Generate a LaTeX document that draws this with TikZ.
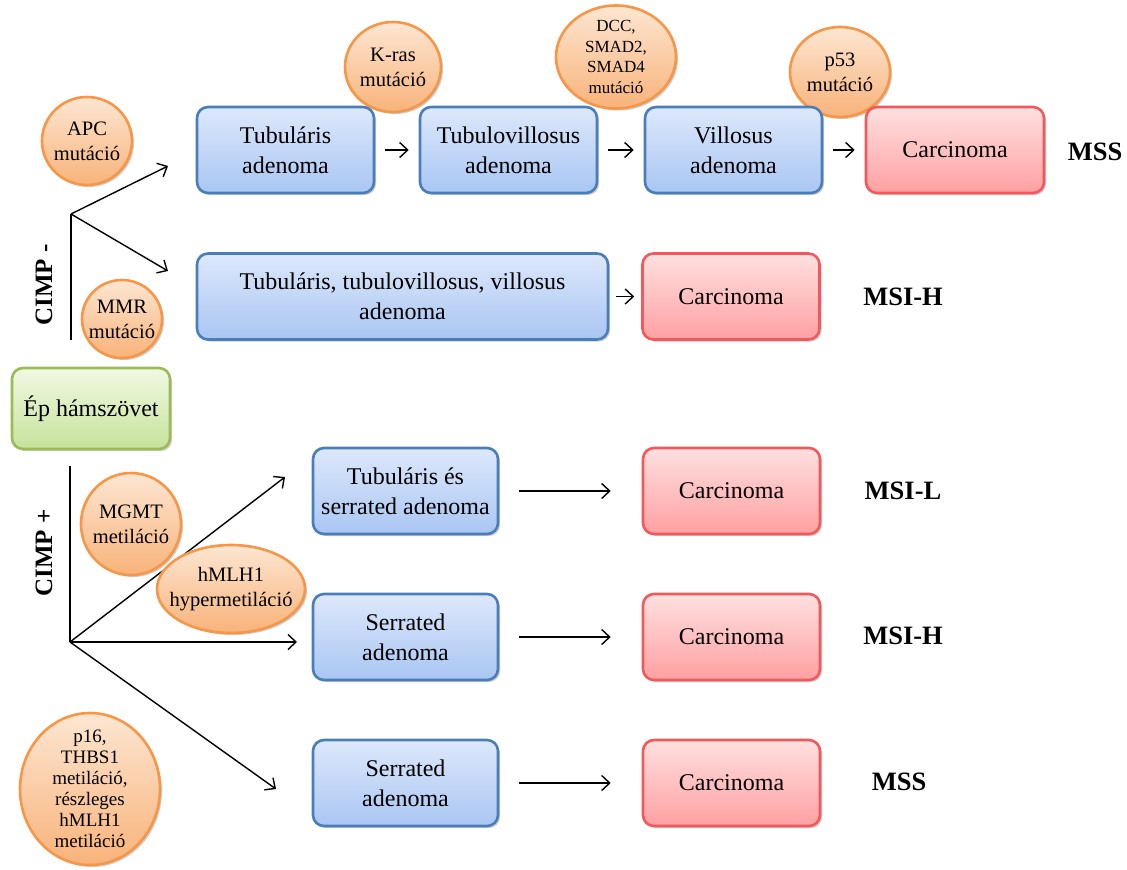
\documentclass[tikz,border=0pt]{standalone}
\usepackage{fontspec}
\setmainfont{Liberation Serif}
\usetikzlibrary{arrows.meta,shapes.geometric,shadows}
\definecolor{bblue}{HTML}{4A7EBB}
\definecolor{btop}{HTML}{DDE8FB}
\definecolor{bbot}{HTML}{A9C6F3}
\definecolor{rbord}{HTML}{F2585C}
\definecolor{rtop}{HTML}{FFE0E0}
\definecolor{rbot}{HTML}{FFA0A2}
\definecolor{gbord}{HTML}{9BBB59}
\definecolor{gtop}{HTML}{F2F9E4}
\definecolor{gbot}{HTML}{C6E29A}
\definecolor{obord}{HTML}{F79646}
\definecolor{otop}{HTML}{FDE6D2}
\definecolor{obot}{HTML}{F8B37A}
\newcommand\fsz[2]{\fontsize{#1}{#2}\selectfont}
\begin{document}
\begin{tikzpicture}[x=1pt,y=-1pt,
  shad/.style={drop shadow={shadow xshift=2pt,shadow yshift=-2pt,opacity=0.2,fill=black}},
  bluebox/.style={shad,rounded corners=11pt,draw=bblue,line width=2.6pt,top color=btop,bottom color=bbot,minimum width=177pt,minimum height=86pt,align=center,font=\fsz{24}{30}},
  redbox/.style={shad,rounded corners=11pt,draw=rbord,line width=2.6pt,top color=rtop,bottom color=rbot,minimum width=177pt,minimum height=86pt,align=center,font=\fsz{24}{30}},
  greenbox/.style={shad,rounded corners=11pt,draw=gbord,line width=2.6pt,top color=gtop,bottom color=gbot,minimum width=158pt,minimum height=81pt,align=center,font=\fsz{24}{30}},
  oval/.style={shad,ellipse,draw=obord,line width=2.6pt,top color=otop,bottom color=obot,inner sep=0pt},
  otext/.style={align=center,font=\fsz{20.5}{25}},
  lbl/.style={font=\bfseries\fsz{26.5}{30}},
  arr/.style={line width=1.4pt,-{Straight Barb[length=8pt,width=15pt,line width=1.4pt]}},
  ln/.style={line width=1.4pt}
]
\useasboundingbox (0,0) rectangle (1127,870);

% ovals row 1
\node[oval,minimum width=90pt,minimum height=88pt,label={[otext]center:APC\\mutáció}] (apc) at (87,141) {};
\node[oval,minimum width=96pt,minimum height=90pt,label={[otext]center:K-ras\\mutáció}] (kras) at (393,67) {};
\node[oval,minimum width=120pt,minimum height=103pt,label={[align=center,font=\fsz{17}{20.5}]center:DCC,\\SMAD2,\\SMAD4\\mutáció}] (dcc) at (616,57) {};
\node[oval,minimum width=100pt,minimum height=90pt,label={[otext]center:p53\\mutáció}] (p53) at (840,72) {};

% row 1
\node[bluebox] (t1) at (285.5,150) {Tubuláris\\adenoma};
\node[bluebox] (t2) at (508.5,150) {Tubulovillosus\\adenoma};
\node[bluebox] (t3) at (733.5,150) {Villosus\\adenoma};
\node[redbox,minimum width=178pt] (c1) at (955,150) {Carcinoma};
\node[lbl] (m1) at (1095,152) {MSS};
\draw[arr,shorten <=10pt,shorten >=10pt] (t1) -- (t2);
\draw[arr,shorten <=10pt,shorten >=10pt] (t2) -- (t3);
\draw[arr,shorten <=10pt,shorten >=10pt] (t3) -- (c1);

% row 2
\node[bluebox,minimum width=411pt] (t4) at (402.5,296.5) {Tubuláris, tubulovillosus, villosus\\adenoma};
\node[redbox] (c2) at (731,296.5) {Carcinoma};
\node[lbl] (m2) at (903,297) {MSI-H};
\draw[arr,shorten <=7pt,shorten >=7pt] (t4) -- (c2);

% CIMP -
\node[oval,minimum width=80pt,minimum height=78pt,label={[otext]center:MMR\\mutáció}] (mmr) at (122,319) {};
\coordinate (v1t) at (71,214);
\coordinate (v1b) at (71,340);
\coordinate (a1) at (168,166);
\coordinate (a2) at (168,271);
\draw[ln] (v1b) -- (v1t);
\draw[arr] (v1t) -- (a1);
\draw[arr] (v1t) -- (a2);
\node[lbl,rotate=90,font=\bfseries\fsz{25}{30}] (cm) at (44,285) {CIMP -};

% green
\node[greenbox] (ep) at (91,408.5) {Ép hámszövet};

% CIMP +
\coordinate (v2t) at (70,466);
\coordinate (v2b) at (70,642);
\coordinate (a3) at (285,477);
\coordinate (a4) at (297,642);
\coordinate (a5) at (276,789);
\draw[ln] (v2t) -- (v2b);
\draw[arr] (v2b) -- (a3);
\draw[arr] (v2b) -- (a4);
\draw[arr] (v2b) -- (a5);
\node[lbl,rotate=90,font=\bfseries\fsz{25}{30}] (cp) at (44,553) {CIMP +};
\node[oval,minimum width=100pt,minimum height=102pt,label={[otext]center:MGMT\\metiláció}] (mgmt) at (131,524) {};
\node[oval,minimum width=148pt,minimum height=88pt,label={[otext]center:hMLH1\\hypermetiláció}] (hmlh) at (231,589) {};
\node[oval,minimum width=140pt,minimum height=152pt,label={[align=center,font=\fsz{19}{21}]center:p16,\\THBS1\\metiláció,\\részleges\\hMLH1\\metiláció}] (p16) at (90,789) {};

% rows 3-5
\node[bluebox,minimum width=185pt] (s1) at (405.5,491) {Tubuláris és\\serrated adenoma};
\node[redbox] (c3) at (731.5,491) {Carcinoma};
\node[lbl] (m3) at (903,491) {MSI-L};
\draw[arr,shorten <=20pt,shorten >=31pt] (s1) -- (c3);

\node[bluebox,minimum width=185pt] (s2) at (405.5,637) {Serrated\\adenoma};
\node[redbox] (c4) at (731.5,637) {Carcinoma};
\node[lbl] (m4) at (903,636) {MSI-H};
\draw[arr,shorten <=20pt,shorten >=31pt] (s2) -- (c4);

\node[bluebox,minimum width=185pt] (s3) at (405.5,783) {Serrated\\adenoma};
\node[redbox] (c5) at (731.5,783) {Carcinoma};
\node[lbl] (m5) at (899,782) {MSS};
\draw[arr,shorten <=20pt,shorten >=31pt] (s3) -- (c5);
\end{tikzpicture}
\end{document}
